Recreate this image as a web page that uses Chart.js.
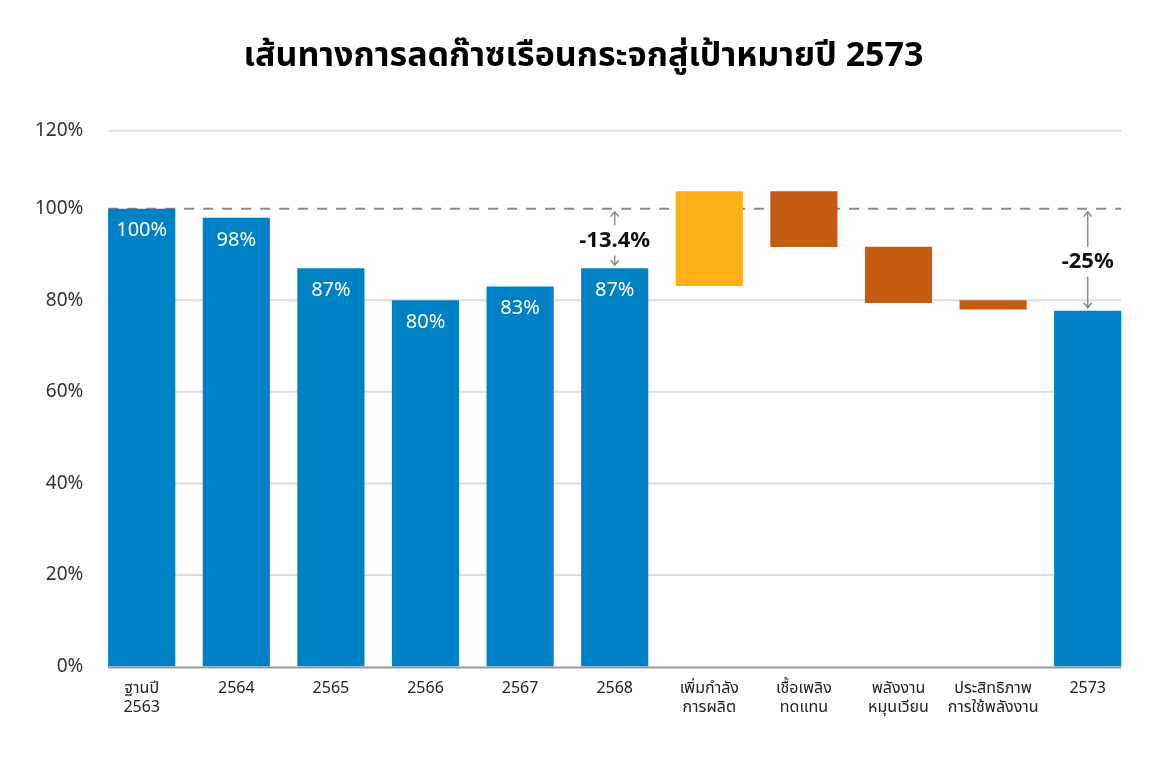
<!DOCTYPE html>
<html>
<head>
<meta charset="utf-8">
<script src="https://cdn.jsdelivr.net/npm/chart.js@4.4.1/dist/chart.umd.min.js"></script>
<style>
  body { margin: 0; background: #fff; }
  #wrap { width: 1167px; height: 757px; }
</style>
</head>
<body>
<div id="wrap"><canvas id="ghg-chart"></canvas></div>
<script>
const chartTitle = 'เส้นทางการลดก๊าซเรือนกระจกสู่เป้าหมายปี 2573';

const categories = [
    ['ฐานปี', '2563'], '2564', '2565', '2566', '2567', '2568',
    ['เพิ่มกำลัง', 'การผลิต'], ['เชื้อเพลิง', 'ทดแทน'], ['พลังงาน', 'หมุนเวียน'],
    ['ประสิทธิภาพ', 'การใช้พลังงาน'], '2573'
];
// bottom and top of each bar, % of base year
const barLow = [0, 0, 0, 0, 0, 0, 83.1, 91.6, 79.4, 78.0, 0];
const barHigh = [100, 98, 87, 80, 83, 87, 103.8, 103.8, 91.7, 80.0, 77.7];
const valueLabels = ['100%', '98%', '87%', '80%', '83%', '87%', '', '', '', '', ''];
const yTickValues = [0, 20, 40, 60, 80, 100, 117];
const yTickLabels = ['0%', '20%', '40%', '60%', '80%', '100%', '120%'];
const baseLine = 100;
const changeNotes = [
    { category: '2568', text: '-13.4%', to: 87 },
    { category: '2573', text: '-25%', to: 77.7 }
];

const BLUE = '#0081C6';
const YELLOW = '#FCAF17';
const RUST = '#C55A11';
const barColors = [BLUE, BLUE, BLUE, BLUE, BLUE, BLUE, YELLOW, RUST, RUST, RUST, BLUE];

const FONT = '"Noto Sans", "Noto Sans Thai", sans-serif';

// gridlines, axis line and dashed 100% line, spanning first bar to last bar
const gridPlugin = {
    id: 'barGrid',
    beforeDatasetsDraw(chart) {
        const { ctx, scales } = chart;
        const bars = chart.getDatasetMeta(0).data;
        const left = bars[0].x - bars[0].width / 2;
        const right = bars[bars.length - 1].x + bars[bars.length - 1].width / 2;
        ctx.save();
        ctx.lineWidth = 2;
        yTickValues.forEach(v => {
            if (v === 0 || v === baseLine) return;
            const y = scales.y.getPixelForValue(v);
            ctx.strokeStyle = '#dddddd';
            ctx.beginPath();
            ctx.moveTo(left, y);
            ctx.lineTo(right, y);
            ctx.stroke();
        });
        // x axis line
        const y0 = scales.y.getPixelForValue(0) + 1;
        ctx.strokeStyle = '#999';
        ctx.beginPath();
        ctx.moveTo(left, y0);
        ctx.lineTo(right, y0);
        ctx.stroke();
        // dashed reference
        const yb = scales.y.getPixelForValue(baseLine);
        ctx.strokeStyle = '#8a8a8a';
        ctx.setLineDash([10, 9]);
        ctx.beginPath();
        ctx.moveTo(left, yb);
        ctx.lineTo(right, yb);
        ctx.stroke();
        ctx.restore();
    }
};

function drawArrow(ctx, x, yFrom, yTo) {
    const dir = yTo > yFrom ? 1 : -1;
    ctx.beginPath();
    ctx.moveTo(x, yFrom);
    ctx.lineTo(x, yTo);
    ctx.moveTo(x - 4, yTo - dir * 5);
    ctx.lineTo(x, yTo);
    ctx.lineTo(x + 4, yTo - dir * 5);
    ctx.stroke();
}

const labelsPlugin = {
    id: 'barLabels',
    afterDatasetsDraw(chart) {
        const { ctx, scales } = chart;
        const meta = chart.getDatasetMeta(0);
        ctx.save();
        ctx.font = '20px ' + FONT;
        ctx.fillStyle = '#fff';
        ctx.textAlign = 'center';
        ctx.textBaseline = 'middle';
        meta.data.forEach((bar, i) => {
            if (valueLabels[i]) ctx.fillText(valueLabels[i], bar.x, bar.y + 22);
        });

        // change arrows and labels
        const yBase = scales.y.getPixelForValue(baseLine);
        changeNotes.forEach(note => {
            const idx = categories.indexOf(note.category);
            const x = meta.data[idx].x;
            const yEnd = scales.y.getPixelForValue(note.to);
            const yMid = (yBase + yEnd) / 2 + 2;
            ctx.strokeStyle = '#8a8a8a';
            ctx.lineWidth = 1.5;
            drawArrow(ctx, x, yMid - 15, yBase + 3);
            drawArrow(ctx, x, yMid + 15, yEnd - 3);
            ctx.fillStyle = '#111';
            ctx.font = 'bold 22px ' + FONT;
            ctx.fillText(note.text, x, yMid);
        });
        ctx.restore();
    }
};

new Chart(document.getElementById('ghg-chart'), {
    type: 'bar',
    data: {
        labels: categories,
        datasets: [{
            data: categories.map((c, i) => [barLow[i], barHigh[i]]),
            backgroundColor: barColors,
            barPercentage: 0.71,
            categoryPercentage: 1.0
        }]
    },
    options: {
        responsive: true,
        maintainAspectRatio: false,
        animation: false,
        layout: { padding: { left: 32, right: 32, top: 0, bottom: 36 } },
        plugins: {
            legend: { display: false },
            tooltip: { enabled: false },
            title: {
                display: true,
                text: chartTitle,
                color: '#000',
                font: { family: FONT, size: 34, weight: 'bold' },
                padding: { top: 36, bottom: 54 }
            }
        },
        scales: {
            x: {
                grid: { display: false },
                border: { display: false },
                ticks: {
                    color: '#222',
                    font: { family: FONT, size: 16 },
                    maxRotation: 0,
                    autoSkip: false,
                    padding: 4
                }
            },
            y: {
                min: 0,
                max: 117,
                afterBuildTicks(scale) {
                    scale.ticks = yTickValues.map(v => ({ value: v }));
                },
                grid: { display: false },
                border: { display: false },
                ticks: {
                    color: '#333',
                    font: { family: FONT, size: 19 },
                    padding: 3,
                    callback: (v) => yTickLabels[yTickValues.indexOf(v)]
                }
            }
        }
    },
    plugins: [gridPlugin, labelsPlugin]
});
</script>
</body>
</html>
